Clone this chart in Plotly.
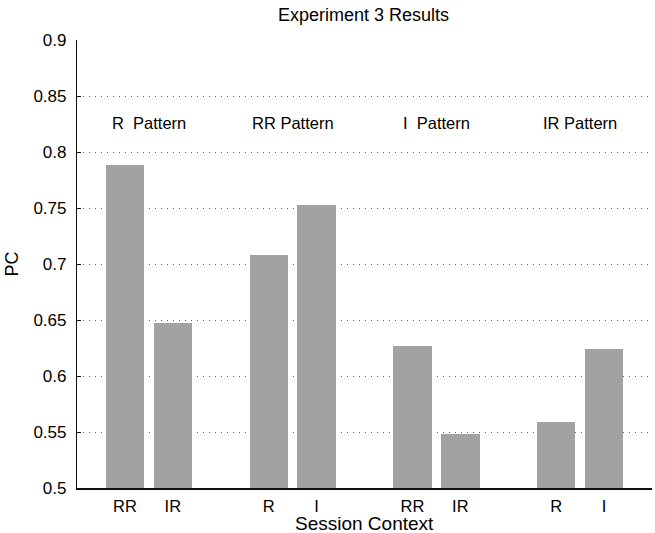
import plotly.graph_objects as go

# Data
positions = [1, 2, 4, 5, 7, 8, 10, 11]
context_labels = ["RR", "IR", "R", "I", "RR", "IR", "R", "I"]
pc_values = [0.788, 0.647, 0.708, 0.753, 0.627, 0.548, 0.559, 0.624]
pattern_names = ["R  Pattern", "RR Pattern", "I  Pattern", "IR Pattern"]
pattern_centers = [1.5, 4.5, 7.5, 10.5]
pattern_label_y = 0.826
y_tickvals = [0.5, 0.55, 0.6, 0.65, 0.7, 0.75, 0.8, 0.85, 0.9]
y_ticktext = ["0.5", "0.55", "0.6", "0.65", "0.7", "0.75", "0.8", "0.85", "0.9"]

FONT = "Liberation Sans, Arial, Helvetica, sans-serif"

fig = go.Figure()
fig.add_trace(go.Bar(
    x=positions, y=[v - 0.5 for v in pc_values], base=0.5,
    width=0.8, marker=dict(color="#a2a2a2", line=dict(width=0)),
    hoverinfo="skip", showlegend=False,
))

for name, cx in zip(pattern_names, pattern_centers):
    fig.add_annotation(x=cx, y=pattern_label_y, xref="x", yref="y",
                       text=name, showarrow=False,
                       font=dict(family=FONT, size=16.5, color="#000"))

# x-axis title as annotation, placed just below the tick labels
fig.add_annotation(x=0.5, y=-0.079, xref="paper", yref="paper",
                   text="Session Context", showarrow=False,
                   xanchor="center", yanchor="middle",
                   font=dict(family=FONT, size=19, color="#000"))

fig.update_layout(
    width=655, height=533,
    margin=dict(l=77, r=3, t=40, b=45),
    paper_bgcolor="white", plot_bgcolor="white",
    font=dict(family=FONT, color="#000"),
    title=dict(text="Experiment 3 Results", x=0.555, xanchor="center",
               y=0.972, yanchor="middle", font=dict(size=18, family=FONT)),
    bargap=0,
)

fig.update_xaxes(
    range=[0, 12], tickvals=positions, ticktext=context_labels,
    showgrid=False, zeroline=False, showline=True, linecolor="#111", linewidth=1.5,
    ticks="", tickfont=dict(size=16.5, family=FONT), ticklabelstandoff=2,
)
fig.update_yaxes(
    range=[0.5, 0.9], tickvals=y_tickvals, ticktext=y_ticktext,
    showgrid=True, gridcolor="#666", griddash="1px,5px", gridwidth=1,
    zeroline=False, showline=True, linecolor="#111", linewidth=1.2,
    ticks="inside", ticklen=4, tickcolor="#111", ticklabelstandoff=6,
    tickfont=dict(size=17, family=FONT),
    title=dict(text="PC", font=dict(size=18, family=FONT), standoff=10),
)

fig.write_html("out.html")
